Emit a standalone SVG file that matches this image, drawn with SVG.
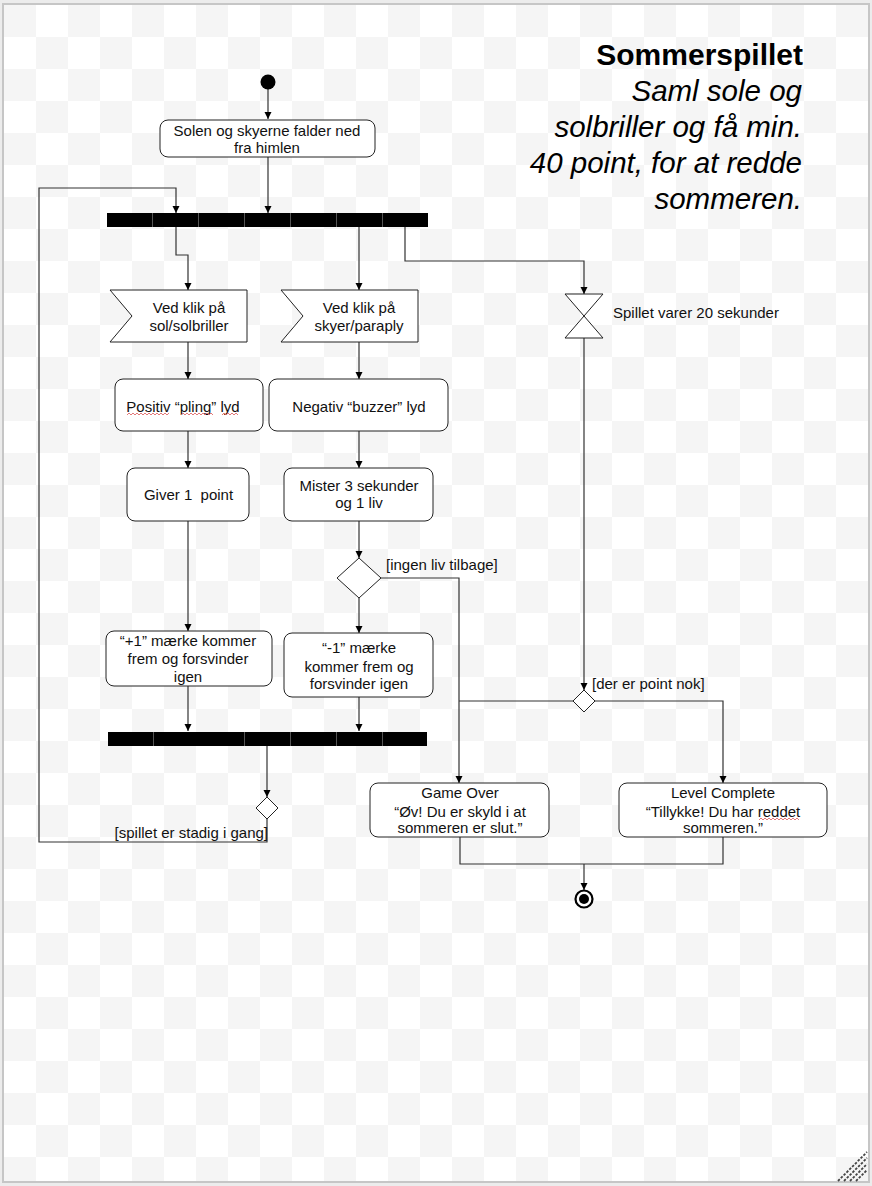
<svg xmlns="http://www.w3.org/2000/svg" width="872" height="1186" viewBox="0 0 872 1186">
<style>
.t{font-family:"Liberation Sans",Arial,sans-serif;font-size:15px;fill:#111}
.m{text-anchor:middle}
.box{fill:#fff;stroke:#222;stroke-width:1}
.c{fill:none;stroke:#333;stroke-width:1.2}
.ca{fill:none;stroke:#333;stroke-width:1.2;marker-end:url(#ah)}
.bar{fill:#000}
.sep{stroke:#555;stroke-width:1}
.sq{fill:none;stroke:#e06a6a;stroke-width:0.9}
</style>
<defs>
<pattern id="chk" x="4" y="5" width="64" height="64" patternUnits="userSpaceOnUse">
<rect width="64" height="64" fill="#fff"/>
<rect width="32" height="32" fill="#f5f5f5"/>
<rect x="32" y="32" width="32" height="32" fill="#f5f5f5"/>
</pattern>
<marker id="ah" viewBox="0 0 10 10" refX="10" refY="5" markerWidth="7" markerHeight="9" markerUnits="userSpaceOnUse" orient="auto">
<path d="M0 0 L10 5 L0 10 Z" fill="#000"/>
</marker>
</defs>
<rect width="872" height="1186" fill="#ececec"/>
<rect x="3" y="4" width="866" height="1178" fill="url(#chk)" stroke="#c6c6c6" stroke-width="2"/>
<g id="resize" stroke="#444" stroke-width="1.8" stroke-dasharray="2.5,1.5">
<line x1="838" y1="1181" x2="867" y2="1152"/>
<line x1="844" y1="1181" x2="867" y2="1158"/>
<line x1="850" y1="1181" x2="867" y2="1164"/>
<line x1="856" y1="1181" x2="867" y2="1170"/>
</g>

<g id="title">
<text x="803" y="65" text-anchor="end" style="font-family:'Liberation Sans',Arial,sans-serif;font-size:30px;font-weight:bold;fill:#000">Sommerspillet</text>
<text text-anchor="end" style="font-family:'Liberation Sans',Arial,sans-serif;font-size:29.5px;font-style:italic;fill:#000"><tspan x="802" y="101">Saml sole og</tspan><tspan x="802" y="137">solbriller og få min.</tspan><tspan x="802" y="173">40 point, for at redde</tspan><tspan x="802" y="209">sommeren.</tspan></text>
</g>

<g id="connectors">
<path class="ca" d="M268 89 V119"/>
<path class="ca" d="M268 157 V213"/>
<path class="ca" d="M176 227 V255 H188 V290"/>
<path class="ca" d="M359 227 V290"/>
<path class="ca" d="M405 227 V261 H584 V294"/>
<path class="ca" d="M188 342 V379"/>
<path class="ca" d="M359 342 V379"/>
<path class="ca" d="M188 431 V468"/>
<path class="ca" d="M359 431 V468"/>
<path class="ca" d="M188 521 V631"/>
<path class="ca" d="M359 521 V558"/>
<path class="ca" d="M359 598 V633"/>
<path class="ca" d="M381 578 H459 V783"/>
<path class="ca" d="M188 686 V731"/>
<path class="ca" d="M359 697 V731"/>
<path class="ca" d="M267 746 V797"/>
<path class="ca" d="M267 819 V842 H39 V188 H176 V213"/>
<path class="ca" d="M584 338 V690"/>
<path class="c" d="M573 701 H459"/>
<path class="ca" d="M595 701 H723 V783"/>
<path class="c" d="M460 837 V864 H723 V837"/>
<path class="ca" d="M584 864 V890"/>
</g>

<g id="start"><circle cx="268" cy="82" r="7.5" fill="#000"/></g>

<g id="n-solen">
<rect class="box" x="160" y="120" width="215" height="37" rx="8"/>
<text class="t m"><tspan x="267" y="136">Solen og skyerne falder ned</tspan><tspan x="267" y="153">fra himlen</tspan></text>
</g>

<g id="fork1">
<rect class="bar" x="107" y="213" width="321" height="14"/>
<path class="sep" d="M152.5 213 V227 M198.5 213 V227 M244.5 213 V227 M290.5 213 V227 M336.5 213 V227 M382.5 213 V227"/>
</g>

<g id="ev-sol">
<path class="box" d="M110 290 H247 V342 H110 L132 316 Z"/>
<text class="t m"><tspan x="189" y="313">Ved klik på</tspan><tspan x="189" y="331">sol/solbriller</tspan></text>
</g>

<g id="ev-sky">
<path class="box" d="M281 290 H418 V342 H281 L303 316 Z"/>
<text class="t m"><tspan x="359" y="313">Ved klik på</tspan><tspan x="359" y="331">skyer/paraply</tspan></text>
</g>

<g id="timer">
<path class="box" d="M565 294 H603 L565 338 H603 Z"/>
<text class="t" x="613" y="318">Spillet varer 20 sekunder</text>
</g>

<g id="n-positiv">
<rect class="box" x="115" y="379" width="148" height="52" rx="8"/>
<text class="t m" x="183" y="412">Positiv “pling” lyd</text>
<path class="sq" d="M127 415 l2 -2 l2 2 l2 -2 l2 2 l2 -2 l2 2 l2 -2 l2 2 l2 -2 l2 2 l2 -2 l2 2 l2 -2 l2 2 l2 -2 l2 2 l2 -2 l2 2 l2 -2 l2 2 l2 -2"/>
<path class="sq" d="M181 415 l2 -2 l2 2 l2 -2 l2 2 l2 -2 l2 2 l2 -2 l2 2 l2 -2 l2 2 l2 -2 l2 2 l2 -2 l2 2 l2 -2 l2 2"/>
<path class="sq" d="M222 415 l2 -2 l2 2 l2 -2 l2 2 l2 -2 l2 2 l2 -2 l2 2"/>
</g>

<g id="n-negativ">
<rect class="box" x="269" y="379" width="179" height="52" rx="8"/>
<text class="t m" x="359" y="412">Negativ “buzzer” lyd</text>
</g>

<g id="n-giver">
<rect class="box" x="127" y="468" width="122" height="53" rx="8"/>
<text class="t m" x="188.5" y="500" xml:space="preserve">Giver 1  point</text>
</g>

<g id="n-mister">
<rect class="box" x="284" y="468" width="149" height="53" rx="8"/>
<text class="t m"><tspan x="359" y="491">Mister 3 sekunder</tspan><tspan x="359" y="508">og 1 liv</tspan></text>
</g>

<g id="dec-liv">
<path class="box" d="M359 558 L381 578 L359 598 L337 578 Z"/>
<text class="t" x="386" y="570">[ingen liv tilbage]</text>
</g>

<g id="n-plus">
<rect class="box" x="106" y="631" width="166" height="55" rx="8"/>
<text class="t m"><tspan x="188" y="646">“+1” mærke kommer</tspan><tspan x="188" y="664">frem og forsvinder</tspan><tspan x="188" y="682">igen</tspan></text>
</g>

<g id="n-minus">
<rect class="box" x="284" y="633" width="149" height="64" rx="8"/>
<text class="t m"><tspan x="359" y="653">“-1” mærke</tspan><tspan x="359" y="672">kommer frem og</tspan><tspan x="359" y="689">forsvinder igen</tspan></text>
</g>

<g id="join2">
<rect class="bar" x="108" y="732" width="319" height="14"/>
<path class="sep" d="M153.5 732 V746 M244.5 732 V746 M290.5 732 V746 M336.5 732 V746 M382.5 732 V746"/>
</g>

<g id="dec-loop">
<path class="box" d="M267 797 L278 808 L267 819 L256 808 Z"/>
<text class="t" x="268" y="838" text-anchor="end">[spillet er stadig i gang]</text>
</g>

<g id="dec-point">
<path class="box" d="M584 690 L595 701 L584 712 L573 701 Z"/>
<text class="t" x="592" y="689">[der er point nok]</text>
</g>

<g id="n-gameover">
<rect class="box" x="370" y="783" width="179" height="54" rx="8"/>
<text class="t m"><tspan x="460" y="798">Game Over</tspan><tspan x="460" y="817">“Øv! Du er skyld i at</tspan><tspan x="460" y="833">sommeren er slut.”</tspan></text>
</g>

<g id="n-level">
<rect class="box" x="619" y="783" width="208" height="54" rx="8"/>
<text class="t m"><tspan x="723" y="798">Level Complete</tspan><tspan x="723" y="817">“Tillykke! Du har reddet</tspan><tspan x="723" y="833">sommeren.”</tspan></text>
<path class="sq" d="M759 820 l2 -2 l2 2 l2 -2 l2 2 l2 -2 l2 2 l2 -2 l2 2 l2 -2 l2 2 l2 -2 l2 2 l2 -2 l2 2 l2 -2 l2 2 l2 -2 l2 2 l2 -2 l2 2"/>
</g>

<g id="end">
<circle cx="584" cy="899" r="8.5" fill="#fff" stroke="#000" stroke-width="2.2"/>
<circle cx="584" cy="899" r="5" fill="#000"/>
</g>
</svg>
